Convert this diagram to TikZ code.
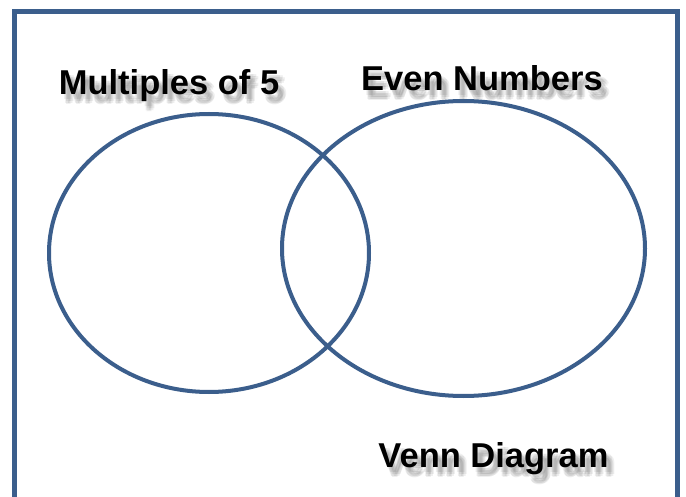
\documentclass[tikz,border=0pt]{standalone}
\usepackage{fontspec}
\setmainfont{Liberation Sans}
\usetikzlibrary{shapes.geometric}
\definecolor{vennblue}{RGB}{59,94,140}

\begin{document}
\begin{tikzpicture}[
    x=1pt, y=-1pt,
    every node/.style={font=\fontsize{34.5}{40}\selectfont\bfseries},
    frame/.style ={draw=vennblue, line width=5pt},
    set/.style   ={draw=vennblue, line width=4pt, ellipse, inner sep=0pt},
    title/.style ={anchor=base, text=black},
    shade/.style ={anchor=base, text=black!60, opacity=0.10},
]
\useasboundingbox (0,0) rectangle (686,497);
\fill[white] (0,0) rectangle (686,497);

% outer frame, open at the bottom
\draw[frame] (14.5,500) -- (14.5,11.5) -- (677.5,11.5) -- (677.5,500);

% the two sets
\node[set, minimum width=320pt, minimum height=278pt] (mult) at (209,253) {};
\node[set, minimum width=363pt, minimum height=295pt] (even) at (463.5,248.5) {};

% soft shadows behind the labels
\foreach \dx/\dy [count=\k] in {3/5, 5/7, 7/9, 4/9, 6/5, 5/10, 8/7} {
  \node[shade] (sm\k) at (169+\dx,95+\dy)    {Multiples of 5};
  \node[shade] (se\k) at (482+\dx,91+\dy)    {Even Numbers};
  \node[shade] (sv\k) at (493.5+\dx,467+\dy) {Venn Diagram};
}

% labels
\node[title] (multlbl) at (169,95)    {Multiples of 5};
\node[title] (evenlbl) at (482,91)    {Even Numbers};
\node[title] (venn)    at (493.5,467) {Venn Diagram};
\end{tikzpicture}
\end{document}
